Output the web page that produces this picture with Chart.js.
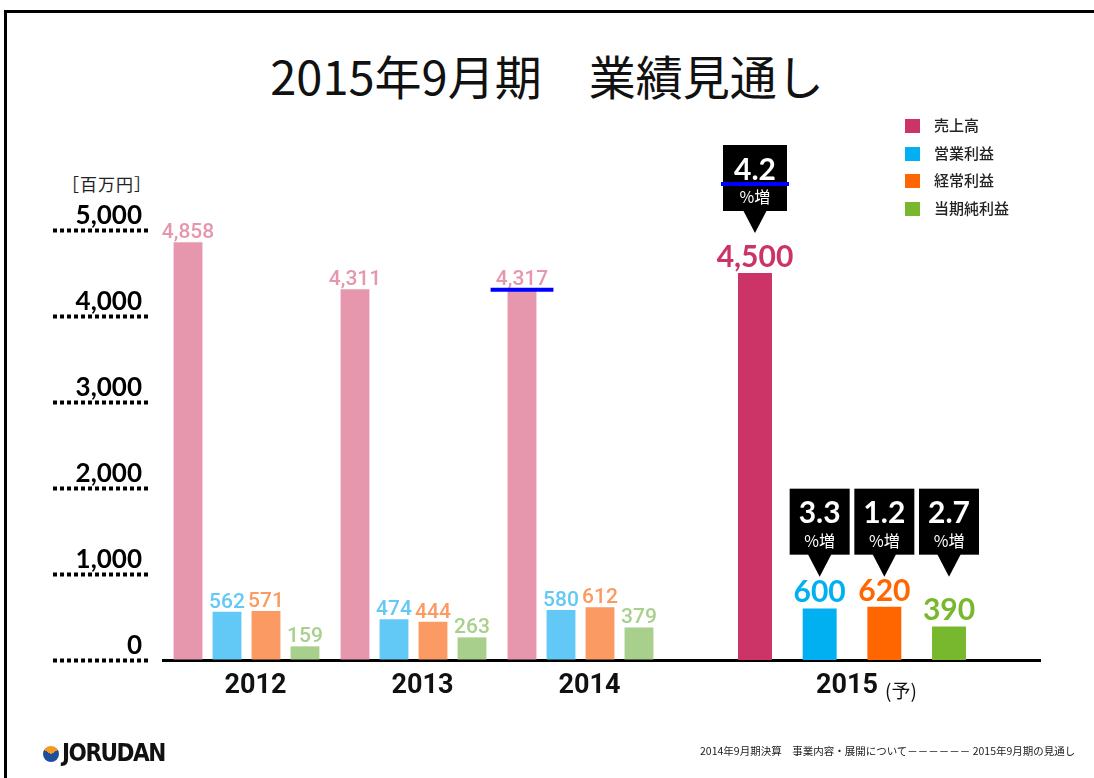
<!DOCTYPE html>
<html lang="ja">
<head>
<meta charset="utf-8">
<title>2015年9月期 業績見通し</title>
<script src="https://cdn.jsdelivr.net/npm/chart.js@4.4.0/dist/chart.umd.min.js"></script>
<style>
  html, body { margin: 0; padding: 0; background: #fff; }
  #page { position: relative; width: 1094px; height: 778px; overflow: hidden; font-family: "Noto Sans CJK JP", sans-serif; }
  .frame { position: absolute; left: 4px; top: 10px; width: 1200px; height: 900px; border-left: 3px solid #000; border-top: 3px solid #000; }
  #title { position: absolute; left: 0; top: 48px; width: 1094px; text-align: center; font-size: 47px; line-height: 54px; color: #111; }
  #unit { position: absolute; left: 62px; top: 172px; font-size: 17px; line-height: 24px; color: #222; letter-spacing: 1px; }
  canvas { position: absolute; top: 0; }
  #chartA { left: 0; }
  #chartB { left: 664px; }
  #legend { position: absolute; left: 905px; top: 114px; }
  #legend div { height: 27.7px; line-height: 22px; font-size: 15px; color: #222; font-weight: 500; white-space: nowrap; }
  #legend span { display: inline-block; width: 15px; height: 14px; margin-right: 14px; vertical-align: -2px; }
  #logo { position: absolute; left: 43px; top: 739px; font-family: "DejaVu Sans Condensed", "Liberation Sans Narrow", sans-serif; font-weight: bold; font-size: 24px; line-height: 28px; color: #111; letter-spacing: -1.5px; }
  #logo i { display: inline-block; width: 16px; height: 16px; border-radius: 50%; margin-right: 3px; vertical-align: -1px;
            background: conic-gradient(#f39a1e 0deg 60deg, #1d4e9e 60deg 300deg, #f39a1e 300deg 360deg); }
  #note { position: absolute; left: 700px; top: 743px; font-size: 10.5px; line-height: 16px; color: #222; white-space: nowrap; }
</style>
</head>
<body>
<div id="page">
  <div class="frame"></div>
  <div id="title">2015年9月期　業績見通し</div>
  <div id="unit">［百万円］</div>
  <canvas id="chartA" width="664" height="778"></canvas>
  <canvas id="chartB" width="430" height="778"></canvas>
  <div id="legend"></div>
  <div id="logo"><i></i>JORUDAN</div>
  <div id="note">2014年9月期決算　事業内容・展開について－－－－－－ 2015年9月期の見通し</div>
</div>
<script>
// 実績 (百万円)
const years = ['2012', '2013', '2014'];
const seriesNames = ['売上高', '営業利益', '経常利益', '当期純利益'];
const sales = [4858, 4311, 4317];
const operatingIncome = [562, 474, 580];
const ordinaryIncome = [571, 444, 612];
const netIncome = [159, 263, 379];

// 2015年9月期 予想
const forecastPeriod = ['2015'];
const forecastNote = '(予)';
const forecast = [4500, 600, 620, 390];
const growthPct = [4.2, 3.3, 1.2, 2.7];

const yTicks = [0, 1000, 2000, 3000, 4000, 5000];

const paleColors = ['#e697ae', '#62c9f7', '#fb9a62', '#a8d08c'];
const brightColors = ['#cc3366', '#00b0f0', '#ff6600', '#78b82e'];

// 凡例
document.getElementById('legend').innerHTML = seriesNames
  .map((n, i) => '<div><span style="background:' + brightColors[i] + '"></span>' + n + '</div>')
  .join('');

const fmt = v => v.toLocaleString('en-US');

const valueLabels = {
  id: 'valueLabels',
  afterDatasetsDraw(chart, args, opts) {
    const ctx = chart.ctx;
    ctx.save();
    ctx.font = opts.font;
    ctx.textAlign = 'center';
    ctx.textBaseline = 'alphabetic';
    chart.data.datasets.forEach((ds, i) => {
      chart.getDatasetMeta(i).data.forEach((bar, j) => {
        ctx.fillStyle = ds.backgroundColor;
        ctx.fillText(fmt(ds.data[j]), bar.x, bar.y - opts.gap);
      });
    });
    // 青い強調線
    if (opts.highlight) {
      const bar = chart.getDatasetMeta(opts.highlight.dataset).data[opts.highlight.index];
      ctx.strokeStyle = '#0000ff';
      ctx.lineWidth = 4;
      ctx.beginPath();
      ctx.moveTo(bar.x - bar.width / 2 - 17, bar.y + 1);
      ctx.lineTo(bar.x + bar.width / 2 + 17, bar.y + 1);
      ctx.stroke();
    }
    ctx.restore();
  }
};

const callouts = {
  id: 'callouts',
  afterDatasetsDraw(chart) {
    const ctx = chart.ctx;
    const bars = chart.data.datasets.map((ds, i) => chart.getDatasetMeta(i).data[0]);
    const smallTop = Math.min(...bars.slice(1).map(b => b.y));
    ctx.save();
    bars.forEach((bar, i) => {
      const tip = i === 0 ? bar.y - 40 : smallTop - 30;
      const boxW = i === 0 ? 64 : 60;
      const boxBottom = tip - 22, top = boxBottom - 66;
      const left = bar.x - boxW / 2;
      ctx.fillStyle = '#000';
      ctx.fillRect(left, top, boxW, 66);
      ctx.beginPath();
      ctx.moveTo(bar.x - 12, boxBottom - 1);
      ctx.lineTo(bar.x + 12, boxBottom - 1);
      ctx.lineTo(bar.x, tip);
      ctx.closePath();
      ctx.fill();
      ctx.fillStyle = '#fff';
      ctx.textAlign = 'center';
      ctx.textBaseline = 'middle';
      ctx.font = 'bold 30px Lato';
      ctx.fillText(growthPct[i].toFixed(1), bar.x, top + 25);
      ctx.font = '16px "Noto Sans CJK JP"';
      ctx.fillText('%増', bar.x, top + 52);
      if (i === 0) {
        ctx.strokeStyle = '#0000ff';
        ctx.lineWidth = 4;
        ctx.beginPath();
        ctx.moveTo(left - 2, top + 39);
        ctx.lineTo(left + boxW + 2, top + 39);
        ctx.stroke();
      }
    });
    // (予)
    const x = chart.scales.x;
    const lo = chart.options.scales.x.ticks.labelOffset;
    ctx.font = 'bold 27px Roboto';
    const w = ctx.measureText(forecastPeriod[0]).width;
    ctx.font = '19px "Noto Sans CJK JP"';
    ctx.fillStyle = '#111';
    ctx.textAlign = 'left';
    ctx.fillText(forecastNote, x.getPixelForTick(0) + lo + w / 2 + 7, chart.chartArea.bottom + 31);
    ctx.restore();
  }
};

const xAxis = offset => ({
  grid: { display: false, drawTicks: false },
  border: { display: true, color: '#000', width: 3 },
  ticks: { color: '#111', padding: 10, labelOffset: offset, font: { family: 'Roboto', weight: 'bold', size: 27 } },
  afterFit: s => { s.height = 118; }
});

new Chart(document.getElementById('chartA'), {
  type: 'bar',
  data: {
    labels: years,
    datasets: [sales, operatingIncome, ordinaryIncome, netIncome].map((d, i) => ({
      label: seriesNames[i],
      data: d,
      backgroundColor: paleColors[i]
    }))
  },
  options: {
    responsive: false,
    animation: false,
    layout: { padding: { top: 230, right: 0, bottom: 0, left: 0 } },
    datasets: { bar: { categoryPercentage: 0.934, barPercentage: 0.74 } },
    plugins: {
      legend: { display: false },
      tooltip: { enabled: false },
      valueLabels: { font: '500 21px Roboto', gap: 4, highlight: { dataset: 0, index: years.length - 1 } }
    },
    scales: {
      x: xAxis(9),
      y: {
        min: 0,
        max: 5000,
        weight: 1,
        afterBuildTicks: s => { s.ticks = yTicks.map(v => ({ value: v })); },
        afterFit: s => { s.width = 150; },
        border: { display: false },
        grid: {
          drawOnChartArea: false,
          tickLength: 97,
          tickColor: '#000',
          tickWidth: 4,
          tickBorderDash: [4, 3]
        },
        ticks: {
          callback: v => fmt(v),
          color: '#000',
          padding: -89,
          labelOffset: -14,
          font: { family: 'Lato', weight: 'bold', size: 26 }
        }
      },
      gap: {
        type: 'linear',
        position: 'left',
        weight: 0,
        grid: { display: false },
        border: { display: false },
        ticks: { display: false },
        afterFit: s => { s.width = 13; }
      }
    }
  },
  plugins: [valueLabels]
});

new Chart(document.getElementById('chartB'), {
  type: 'bar',
  data: {
    labels: forecastPeriod,
    datasets: forecast.map((v, i) => ({
      label: seriesNames[i],
      data: [v],
      backgroundColor: brightColors[i]
    }))
  },
  options: {
    responsive: false,
    animation: false,
    layout: { padding: { top: 230, right: 54, bottom: 0, left: 0 } },
    datasets: { bar: { categoryPercentage: 0.688, barPercentage: 0.525 } },
    plugins: {
      legend: { display: false },
      tooltip: { enabled: false },
      valueLabels: { font: 'bold 30px Lato', gap: 6 }
    },
    scales: {
      x: xAxis(-5),
      y: { min: 0, max: 5000, display: false }
    }
  },
  plugins: [valueLabels, callouts]
});
</script>
</body>
</html>
